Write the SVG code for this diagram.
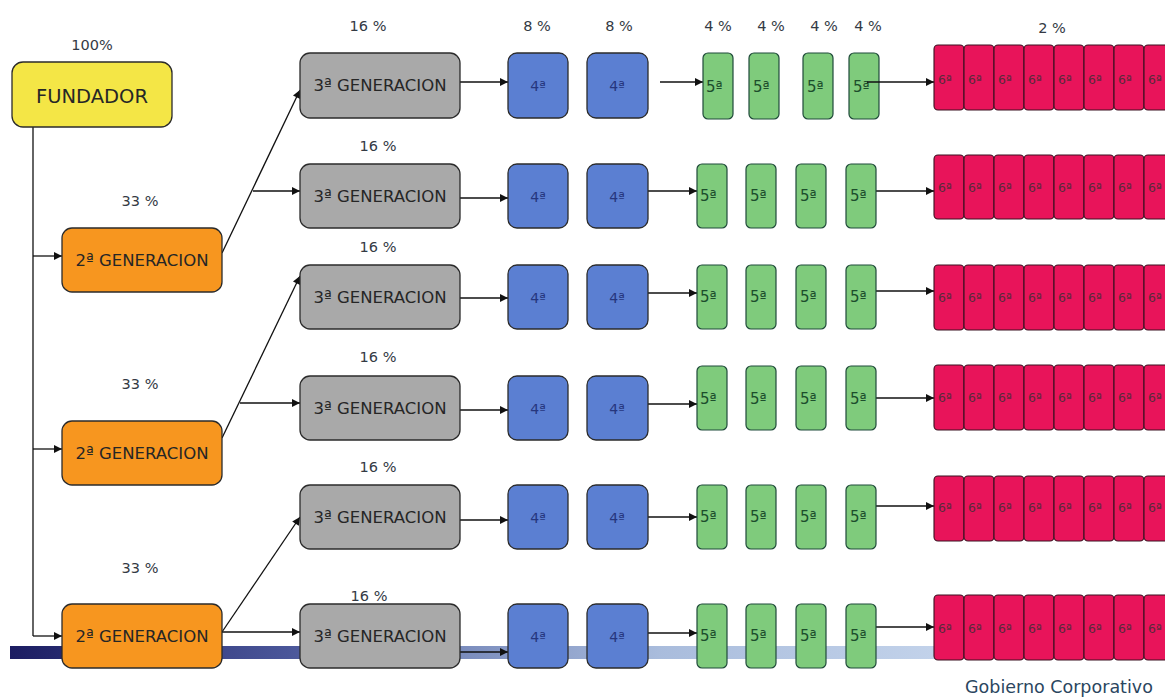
<svg xmlns="http://www.w3.org/2000/svg" width="1165" height="698" viewBox="0 0 1165 698">
<defs>
<marker id="ah" viewBox="0 0 10 10" refX="10" refY="5" markerWidth="9" markerHeight="8" markerUnits="userSpaceOnUse" orient="auto">
<path d="M0,0 L10,5 L0,10 z" fill="#111"/>
</marker>
<linearGradient id="bar" x1="0" y1="0" x2="1" y2="0">
<stop offset="0" stop-color="#1c1d62"/>
<stop offset="0.06" stop-color="#25296e"/>
<stop offset="0.3" stop-color="#4a5699"/>
<stop offset="0.5" stop-color="#7d8fbf"/>
<stop offset="0.7" stop-color="#a9bcdc"/>
<stop offset="1" stop-color="#c2d2ea"/>
</linearGradient>
<style>
.pc{font-family:"DejaVu Sans","Noto Sans",sans-serif;font-size:14.5px;fill:#343a44;text-anchor:middle}
.b{stroke:#2b2b2b;stroke-width:1.3}
.y{fill:#f4e646}
.o{fill:#f7961f}
.g{fill:#a9a9a9}
.bl{fill:#5b7fd2}
.gr{fill:#7fcb7c;stroke:#1f4a3a;stroke-width:1.2}
.pk{fill:#e8145a;stroke:#3a1020;stroke-width:1.1}
.lbl{font-family:"DejaVu Sans","Noto Sans",sans-serif;font-size:16.5px;fill:#262626;text-anchor:middle}
.n4{font-family:"DejaVu Sans","Noto Sans",sans-serif;font-size:14px;fill:#26367e;text-anchor:middle}
.n5{font-family:"DejaVu Sans","Noto Sans",sans-serif;font-size:15px;fill:#1c4d2c}
.n6{font-family:"DejaVu Sans","Noto Sans",sans-serif;font-size:12.5px;fill:#5a2a3a}
.c{stroke:#111;stroke-width:1.3;fill:none}
.ca{stroke:#111;stroke-width:1.3;fill:none;marker-end:url(#ah)}
</style>
</defs>
<rect width="1165" height="698" fill="#ffffff"/>
<rect x="10" y="646" width="925" height="13" fill="url(#bar)"/>

<g id="connectors">
<path class="c" d="M33,127 V636"/>
<path class="ca" d="M33,256 H62"/>
<path class="ca" d="M33,449 H62"/>
<path class="ca" d="M33,636 H62"/>
<path class="ca" d="M222,253 L300,90"/>
<path class="ca" d="M253,191 H300"/>
<path class="ca" d="M222,438 L300,276"/>
<path class="ca" d="M240,403 H300"/>
<path class="ca" d="M222,632 L300,517"/>
<path class="ca" d="M222,632 H300"/>
<path class="ca" d="M460,82 H508"/>
<path class="ca" d="M460,198 H508"/>
<path class="ca" d="M460,298 H508"/>
<path class="ca" d="M460,410 H508"/>
<path class="ca" d="M460,520 H508"/>
<path class="ca" d="M460,652 H508"/>
<path class="ca" d="M660,82 H703"/>
<path class="ca" d="M648,191 H697"/>
<path class="ca" d="M648,293 H697"/>
<path class="ca" d="M648,404 H697"/>
<path class="ca" d="M648,517 H697"/>
<path class="ca" d="M648,633 H697"/>
<path class="ca" d="M876,191 H934"/>
<path class="ca" d="M876,291 H934"/>
<path class="ca" d="M876,398 H934"/>
<path class="ca" d="M876,506 H934"/>
<path class="ca" d="M876,627 H934"/>
</g>

<g id="fundador">
<text class="pc" x="92" y="50">100%</text>
<rect class="b y" x="12" y="62" width="160" height="65" rx="11"/>
<text class="lbl" x="92" y="103" style="font-size:19.5px">FUNDADOR</text>
</g>

<g id="gen2-a">
<text class="pc" x="140" y="206">33 %</text>
<rect class="b o" x="62" y="228" width="160" height="64" rx="10"/>
<text class="lbl" x="142" y="266">2ª GENERACION</text>
</g>
<g id="gen2-b">
<text class="pc" x="140" y="389">33 %</text>
<rect class="b o" x="62" y="421" width="160" height="64" rx="10"/>
<text class="lbl" x="142" y="459">2ª GENERACION</text>
</g>
<g id="gen2-c">
<text class="pc" x="140" y="573">33 %</text>
<rect class="b o" x="62" y="604" width="160" height="64" rx="10"/>
<text class="lbl" x="142" y="642">2ª GENERACION</text>
</g>

<g id="gen3-1">
<text class="pc" x="368" y="31">16 %</text>
<rect class="b g" x="300" y="53" width="160" height="65" rx="10"/>
<text class="lbl" x="380" y="91">3ª GENERACION</text>
</g>
<g id="gen3-2">
<text class="pc" x="378" y="151">16 %</text>
<rect class="b g" x="300" y="164" width="160" height="64" rx="10"/>
<text class="lbl" x="380" y="202">3ª GENERACION</text>
</g>
<g id="gen3-3">
<text class="pc" x="378" y="252">16 %</text>
<rect class="b g" x="300" y="265" width="160" height="64" rx="10"/>
<text class="lbl" x="380" y="303">3ª GENERACION</text>
</g>
<g id="gen3-4">
<text class="pc" x="378" y="362">16 %</text>
<rect class="b g" x="300" y="376" width="160" height="64" rx="10"/>
<text class="lbl" x="380" y="414">3ª GENERACION</text>
</g>
<g id="gen3-5">
<text class="pc" x="378" y="472">16 %</text>
<rect class="b g" x="300" y="485" width="160" height="64" rx="10"/>
<text class="lbl" x="380" y="523">3ª GENERACION</text>
</g>
<g id="gen3-6">
<text class="pc" x="369" y="601">16 %</text>
<rect class="b g" x="300" y="604" width="160" height="64" rx="10"/>
<text class="lbl" x="380" y="642">3ª GENERACION</text>
</g>

<g id="gen4-labels">
<text class="pc" x="537" y="31">8 %</text>
<text class="pc" x="619" y="31">8 %</text>
<text class="pc" x="718" y="31">4 %</text>
<text class="pc" x="771" y="31">4 %</text>
<text class="pc" x="824" y="31">4 %</text>
<text class="pc" x="868" y="31">4 %</text>
<text class="pc" x="1052" y="33">2 %</text>
</g>

<g id="gen4-row1"><rect class="b bl" x="508" y="53" width="60" height="65" rx="9"/><text class="n4" x="538" y="91">4ª</text><rect class="b bl" x="587" y="53" width="61" height="65" rx="9"/><text class="n4" x="617" y="91">4ª</text></g>
<g id="gen4-row2"><rect class="b bl" x="508" y="164" width="60" height="64" rx="9"/><text class="n4" x="538" y="202">4ª</text><rect class="b bl" x="587" y="164" width="61" height="64" rx="9"/><text class="n4" x="617" y="202">4ª</text></g>
<g id="gen4-row3"><rect class="b bl" x="508" y="265" width="60" height="64" rx="9"/><text class="n4" x="538" y="303">4ª</text><rect class="b bl" x="587" y="265" width="61" height="64" rx="9"/><text class="n4" x="617" y="303">4ª</text></g>
<g id="gen4-row4"><rect class="b bl" x="508" y="376" width="60" height="64" rx="9"/><text class="n4" x="538" y="414">4ª</text><rect class="b bl" x="587" y="376" width="61" height="64" rx="9"/><text class="n4" x="617" y="414">4ª</text></g>
<g id="gen4-row5"><rect class="b bl" x="508" y="485" width="60" height="64" rx="9"/><text class="n4" x="538" y="523">4ª</text><rect class="b bl" x="587" y="485" width="61" height="64" rx="9"/><text class="n4" x="617" y="523">4ª</text></g>
<g id="gen4-row6"><rect class="b bl" x="508" y="604" width="60" height="64" rx="9"/><text class="n4" x="538" y="642">4ª</text><rect class="b bl" x="587" y="604" width="61" height="64" rx="9"/><text class="n4" x="617" y="642">4ª</text></g>

<g id="gen5-row1">
<rect class="gr" x="703" y="53" width="30" height="66" rx="5"/><text class="n5" x="706" y="92">5ª</text>
<rect class="gr" x="749" y="53" width="30" height="66" rx="5"/><text class="n5" x="753" y="92">5ª</text>
<rect class="gr" x="803" y="53" width="30" height="66" rx="5"/><text class="n5" x="807" y="92">5ª</text>
<rect class="gr" x="849" y="53" width="30" height="66" rx="5"/><text class="n5" x="853" y="92">5ª</text>
</g>
<g id="gen5-row2">
<rect class="gr" x="697" y="164" width="30" height="64" rx="5"/><text class="n5" x="700" y="201">5ª</text>
<rect class="gr" x="746" y="164" width="30" height="64" rx="5"/><text class="n5" x="750" y="201">5ª</text>
<rect class="gr" x="796" y="164" width="30" height="64" rx="5"/><text class="n5" x="800" y="201">5ª</text>
<rect class="gr" x="846" y="164" width="30" height="64" rx="5"/><text class="n5" x="850" y="201">5ª</text>
</g>
<g id="gen5-row3">
<rect class="gr" x="697" y="265" width="30" height="64" rx="5"/><text class="n5" x="700" y="302">5ª</text>
<rect class="gr" x="746" y="265" width="30" height="64" rx="5"/><text class="n5" x="750" y="302">5ª</text>
<rect class="gr" x="796" y="265" width="30" height="64" rx="5"/><text class="n5" x="800" y="302">5ª</text>
<rect class="gr" x="846" y="265" width="30" height="64" rx="5"/><text class="n5" x="850" y="302">5ª</text>
</g>
<g id="gen5-row4">
<rect class="gr" x="697" y="366" width="30" height="64" rx="5"/><text class="n5" x="700" y="404">5ª</text>
<rect class="gr" x="746" y="366" width="30" height="64" rx="5"/><text class="n5" x="750" y="404">5ª</text>
<rect class="gr" x="796" y="366" width="30" height="64" rx="5"/><text class="n5" x="800" y="404">5ª</text>
<rect class="gr" x="846" y="366" width="30" height="64" rx="5"/><text class="n5" x="850" y="404">5ª</text>
</g>
<g id="gen5-row5">
<rect class="gr" x="697" y="485" width="30" height="64" rx="5"/><text class="n5" x="700" y="522">5ª</text>
<rect class="gr" x="746" y="485" width="30" height="64" rx="5"/><text class="n5" x="750" y="522">5ª</text>
<rect class="gr" x="796" y="485" width="30" height="64" rx="5"/><text class="n5" x="800" y="522">5ª</text>
<rect class="gr" x="846" y="485" width="30" height="64" rx="5"/><text class="n5" x="850" y="522">5ª</text>
</g>
<g id="gen5-row6">
<rect class="gr" x="697" y="604" width="30" height="64" rx="5"/><text class="n5" x="700" y="641">5ª</text>
<rect class="gr" x="746" y="604" width="30" height="64" rx="5"/><text class="n5" x="750" y="641">5ª</text>
<rect class="gr" x="796" y="604" width="30" height="64" rx="5"/><text class="n5" x="800" y="641">5ª</text>
<rect class="gr" x="846" y="604" width="30" height="64" rx="5"/><text class="n5" x="850" y="641">5ª</text>
</g>

<g id="connector-row1-5to6"><path class="ca" d="M867,82 H934"/></g>

<g id="gen6-row1">
<rect class="pk" x="934" y="45" width="30" height="65" rx="4"/><text class="n6" x="938" y="84">6ª</text>
<rect class="pk" x="964" y="45" width="30" height="65" rx="4"/><text class="n6" x="968" y="84">6ª</text>
<rect class="pk" x="994" y="45" width="30" height="65" rx="4"/><text class="n6" x="998" y="84">6ª</text>
<rect class="pk" x="1024" y="45" width="30" height="65" rx="4"/><text class="n6" x="1028" y="84">6ª</text>
<rect class="pk" x="1054" y="45" width="30" height="65" rx="4"/><text class="n6" x="1058" y="84">6ª</text>
<rect class="pk" x="1084" y="45" width="30" height="65" rx="4"/><text class="n6" x="1088" y="84">6ª</text>
<rect class="pk" x="1114" y="45" width="30" height="65" rx="4"/><text class="n6" x="1118" y="84">6ª</text>
<rect class="pk" x="1144" y="45" width="30" height="65" rx="4"/><text class="n6" x="1148" y="84">6ª</text>
</g>
<g id="gen6-row2">
<rect class="pk" x="934" y="155" width="30" height="64" rx="4"/><text class="n6" x="938" y="192">6ª</text>
<rect class="pk" x="964" y="155" width="30" height="64" rx="4"/><text class="n6" x="968" y="192">6ª</text>
<rect class="pk" x="994" y="155" width="30" height="64" rx="4"/><text class="n6" x="998" y="192">6ª</text>
<rect class="pk" x="1024" y="155" width="30" height="64" rx="4"/><text class="n6" x="1028" y="192">6ª</text>
<rect class="pk" x="1054" y="155" width="30" height="64" rx="4"/><text class="n6" x="1058" y="192">6ª</text>
<rect class="pk" x="1084" y="155" width="30" height="64" rx="4"/><text class="n6" x="1088" y="192">6ª</text>
<rect class="pk" x="1114" y="155" width="30" height="64" rx="4"/><text class="n6" x="1118" y="192">6ª</text>
<rect class="pk" x="1144" y="155" width="30" height="64" rx="4"/><text class="n6" x="1148" y="192">6ª</text>
</g>
<g id="gen6-row3">
<rect class="pk" x="934" y="265" width="30" height="65" rx="4"/><text class="n6" x="938" y="302">6ª</text>
<rect class="pk" x="964" y="265" width="30" height="65" rx="4"/><text class="n6" x="968" y="302">6ª</text>
<rect class="pk" x="994" y="265" width="30" height="65" rx="4"/><text class="n6" x="998" y="302">6ª</text>
<rect class="pk" x="1024" y="265" width="30" height="65" rx="4"/><text class="n6" x="1028" y="302">6ª</text>
<rect class="pk" x="1054" y="265" width="30" height="65" rx="4"/><text class="n6" x="1058" y="302">6ª</text>
<rect class="pk" x="1084" y="265" width="30" height="65" rx="4"/><text class="n6" x="1088" y="302">6ª</text>
<rect class="pk" x="1114" y="265" width="30" height="65" rx="4"/><text class="n6" x="1118" y="302">6ª</text>
<rect class="pk" x="1144" y="265" width="30" height="65" rx="4"/><text class="n6" x="1148" y="302">6ª</text>
</g>
<g id="gen6-row4">
<rect class="pk" x="934" y="365" width="30" height="65" rx="4"/><text class="n6" x="938" y="402">6ª</text>
<rect class="pk" x="964" y="365" width="30" height="65" rx="4"/><text class="n6" x="968" y="402">6ª</text>
<rect class="pk" x="994" y="365" width="30" height="65" rx="4"/><text class="n6" x="998" y="402">6ª</text>
<rect class="pk" x="1024" y="365" width="30" height="65" rx="4"/><text class="n6" x="1028" y="402">6ª</text>
<rect class="pk" x="1054" y="365" width="30" height="65" rx="4"/><text class="n6" x="1058" y="402">6ª</text>
<rect class="pk" x="1084" y="365" width="30" height="65" rx="4"/><text class="n6" x="1088" y="402">6ª</text>
<rect class="pk" x="1114" y="365" width="30" height="65" rx="4"/><text class="n6" x="1118" y="402">6ª</text>
<rect class="pk" x="1144" y="365" width="30" height="65" rx="4"/><text class="n6" x="1148" y="402">6ª</text>
</g>
<g id="gen6-row5">
<rect class="pk" x="934" y="476" width="30" height="65" rx="4"/><text class="n6" x="938" y="512">6ª</text>
<rect class="pk" x="964" y="476" width="30" height="65" rx="4"/><text class="n6" x="968" y="512">6ª</text>
<rect class="pk" x="994" y="476" width="30" height="65" rx="4"/><text class="n6" x="998" y="512">6ª</text>
<rect class="pk" x="1024" y="476" width="30" height="65" rx="4"/><text class="n6" x="1028" y="512">6ª</text>
<rect class="pk" x="1054" y="476" width="30" height="65" rx="4"/><text class="n6" x="1058" y="512">6ª</text>
<rect class="pk" x="1084" y="476" width="30" height="65" rx="4"/><text class="n6" x="1088" y="512">6ª</text>
<rect class="pk" x="1114" y="476" width="30" height="65" rx="4"/><text class="n6" x="1118" y="512">6ª</text>
<rect class="pk" x="1144" y="476" width="30" height="65" rx="4"/><text class="n6" x="1148" y="512">6ª</text>
</g>
<g id="gen6-row6">
<rect class="pk" x="934" y="595" width="30" height="65" rx="4"/><text class="n6" x="938" y="633">6ª</text>
<rect class="pk" x="964" y="595" width="30" height="65" rx="4"/><text class="n6" x="968" y="633">6ª</text>
<rect class="pk" x="994" y="595" width="30" height="65" rx="4"/><text class="n6" x="998" y="633">6ª</text>
<rect class="pk" x="1024" y="595" width="30" height="65" rx="4"/><text class="n6" x="1028" y="633">6ª</text>
<rect class="pk" x="1054" y="595" width="30" height="65" rx="4"/><text class="n6" x="1058" y="633">6ª</text>
<rect class="pk" x="1084" y="595" width="30" height="65" rx="4"/><text class="n6" x="1088" y="633">6ª</text>
<rect class="pk" x="1114" y="595" width="30" height="65" rx="4"/><text class="n6" x="1118" y="633">6ª</text>
<rect class="pk" x="1144" y="595" width="30" height="65" rx="4"/><text class="n6" x="1148" y="633">6ª</text>
</g>

<text id="caption" x="965" y="693" style="font-family:'DejaVu Sans','Noto Sans',sans-serif;font-size:17.5px;fill:#2b4660">Gobierno Corporativo</text>
</svg>
